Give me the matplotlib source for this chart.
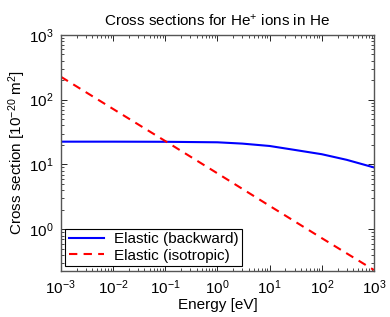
import matplotlib
matplotlib.use("Agg")
import matplotlib.pyplot as plt

plt.rcParams['font.family'] = ['Liberation Sans', 'DejaVu Sans']
plt.rcParams['mathtext.fontset'] = 'custom'
plt.rcParams['mathtext.rm'] = 'Liberation Sans'
plt.rcParams['mathtext.it'] = 'Liberation Sans'

energy = [1e-3, 1e-2, 1e-1, 1, 3, 10, 30, 100, 300, 1000]
elastic_backward = [22.5, 22.5, 22.4, 22.0, 21.0, 19.3, 16.8, 14.4, 11.8, 9.0]
energy_iso = [1e-3, 1e-2, 1e-1, 1, 10, 100, 1000]
elastic_isotropic = [226, 72, 23, 7.3, 2.3, 0.73, 0.235]

title = "Cross sections for He$^{+}$ ions in He"
xlabel = "Energy [eV]"
ylabel = "Cross section [10$^{-20}$ m$^{2}$]"
labels = ["Elastic (backward)", "Elastic (isotropic)"]

fs = 11
fig = plt.figure(figsize=(3.9, 3.17), dpi=100)
ax = fig.add_axes([0.156, 0.145, 0.803, 0.745])
ax.loglog(energy, elastic_backward, color='#0000ff', lw=1.5, label=labels[0])
ax.loglog(energy_iso, elastic_isotropic, color='#ff0000', lw=1.5, ls=(0, (4, 3)), label=labels[1])
ax.set_xlim(1e-3, 1e3)
ax.set_ylim(0.227, 1e3)
ax.set_title(title, fontsize=fs, pad=7)
ax.set_xlabel(xlabel, fontsize=fs, labelpad=1)
ax.set_ylabel(ylabel, fontsize=fs, labelpad=1)
ax.tick_params(which='both', direction='in', top=True, right=True, labelsize=fs)
ax.tick_params(which='major', length=4, width=0.6, pad=5)
ax.tick_params(which='minor', length=2, width=0.5)
for s in ax.spines.values():
    s.set_color('#555555')
    s.set_linewidth(1.0)
leg = ax.legend(loc='lower left', fontsize=fs, fancybox=False, edgecolor='black',
                framealpha=1, handlelength=2.3, borderaxespad=0.3, borderpad=0.25,
                labelspacing=0.15, handletextpad=0.6)
leg.get_frame().set_linewidth(0.8)
fig.savefig("out.png", dpi=100)
